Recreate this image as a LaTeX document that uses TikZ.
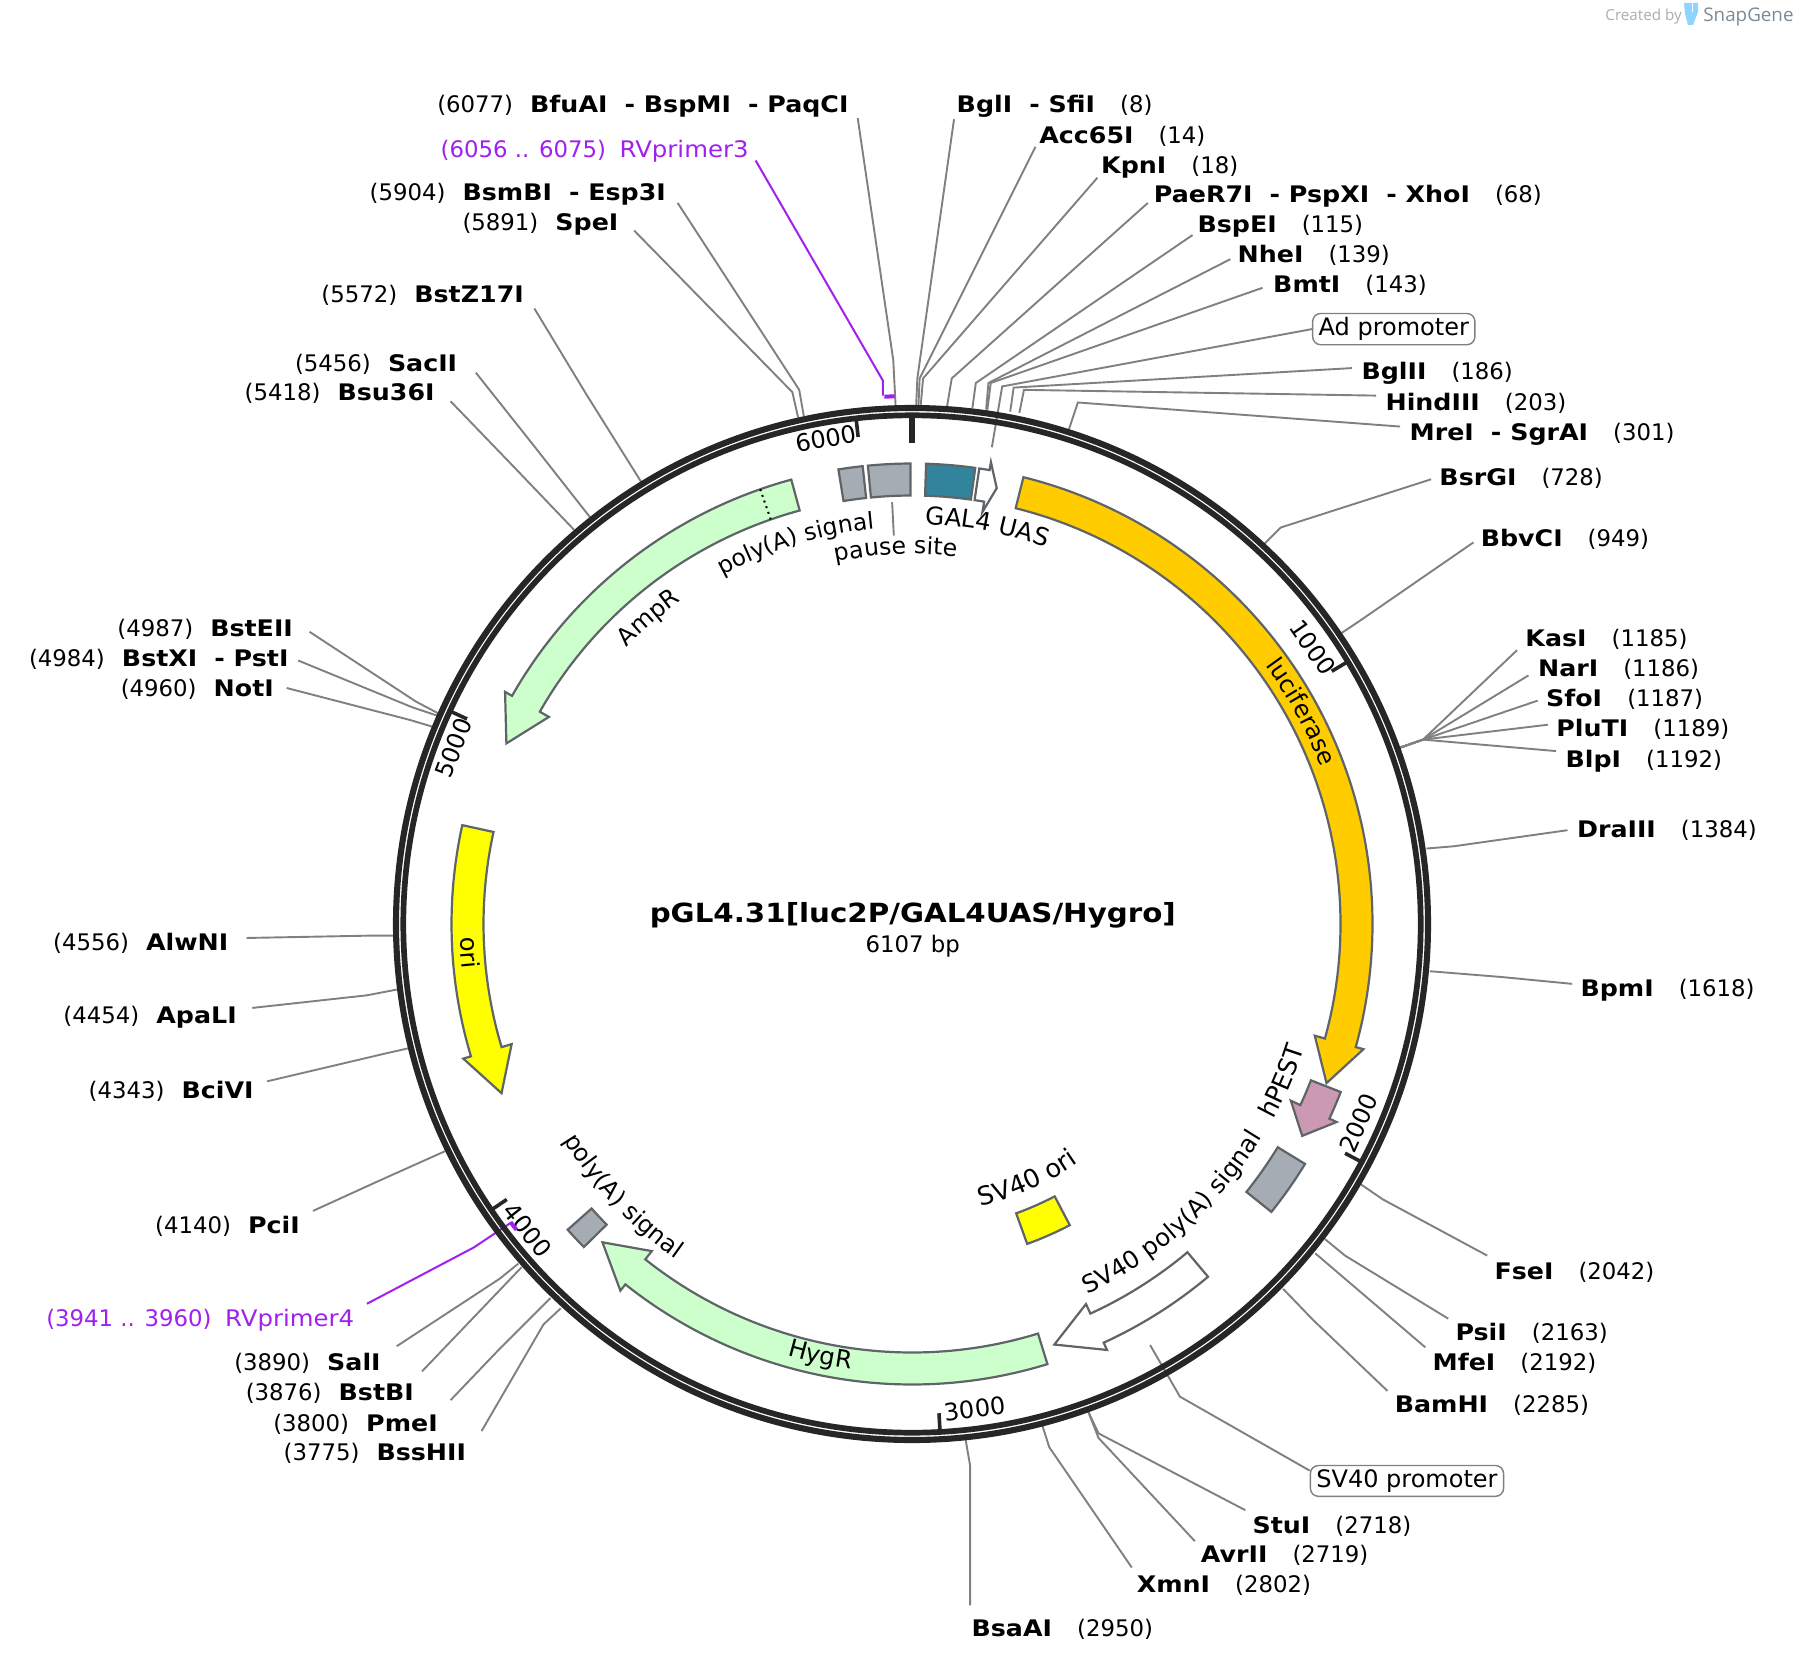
\documentclass[tikz,border=0pt]{standalone}
\usepackage{fontspec}
\setmainfont{DejaVu Sans}[BoldFeatures={FakeStretch=1.11}]
\newfontfamily\logofont{Open Sans}
\newfontfamily\widefont[FakeStretch=1.07]{DejaVu Sans}
\newfontfamily\curvefont[Kerning=Off]{DejaVu Sans}
\usetikzlibrary{decorations.text}
\definecolor{ringc}{HTML}{262626}
\definecolor{leadc}{HTML}{808080}
\definecolor{featc}{HTML}{5F6468}
\definecolor{purp}{HTML}{A020F0}
\definecolor{greyf}{HTML}{A6ACB3}
\definecolor{tealf}{HTML}{31849B}
\definecolor{mintf}{HTML}{CCFFCC}
\definecolor{yellf}{HTML}{FFFF00}
\definecolor{goldf}{HTML}{FFCC00}
\definecolor{pinkf}{HTML}{CC99B2}
\definecolor{logoblue}{HTML}{8FD3FF}
\definecolor{logogrey}{HTML}{7D8A94}
\newcommand\lfnt{\fontsize{12}{14}\selectfont}
\newcommand\sfnt{\fontsize{11.4}{14}\selectfont}
\newcommand\Lg{\hspace{0.75em}}
\newcommand\Rg{\hspace{1.1em}}
\newcommand\Bf[1]{\textbf{#1}}
\tikzset{
  feat/.style={draw=featc,line width=1.1pt,line join=miter},
  leader/.style={draw=leadc,line width=0.95pt},
  lbl/.style={anchor=base west,inner sep=0,font=\sfnt},
  ticktxt/.style={inner sep=0,font=\lfnt},
  boxlbl/.style={draw=leadc,rounded corners=4pt,line width=0.7pt,inner xsep=3pt,inner ysep=2pt,font=\lfnt},
}
% feature arrow: fill, theta0, theta base, theta tip
\newcommand\farrow[5][feat]{\draw[#1,fill=#2] ({90-(#3)}:460.5) arc[start angle={90-(#3)},end angle={90-(#4)},radius=460.5] -- ({90-(#4)}:468.5) -- ({90-(#5)}:444) -- ({90-(#4)}:418) -- ({90-(#4)}:428.5) arc[start angle={90-(#4)},end angle={90-(#3)},radius=428.5] -- cycle;}
% block: fill, th0, th1, ri, ro
\newcommand\fblock[5]{\draw[feat,fill=#1] ({90-(#2)}:#5) arc[start angle={90-(#2)},end angle={90-(#3)},radius=#5] -- ({90-(#3)}:#4) arc[start angle={90-(#3)},end angle={90-(#2)},radius=#4] -- cycle;}
% text on arc: [size], text, radius, centre theta, dir (1 clockwise, -1 counterclockwise)
\newcommand\arctext[5][12]{\path[decorate,decoration={text along path,text align=center,text={|\curvefont\fontsize{#1}{14}\selectfont|#2}}] ({90-(#4)+(#5)*40}:#3) arc[start angle={90-(#4)+(#5)*40},end angle={90-(#4)-(#5)*40},radius=#3];}
% label with leader: id, x, y, text, start, elbow, ring
\newcommand\lab[7]{\node[lbl] (#1) at (#2,#3+8) {#4};
  \coordinate (#1-s) at (#5); \coordinate (#1-e) at (#6); \coordinate (#1-r) at (#7);
  \draw[leader] (#1-s) -- (#1-e) -- (#1-r);}
\begin{document}
\begin{tikzpicture}[x=0.5pt,y=-0.5pt]
\fill[white] (0,0) rectangle (1798,1664);
\useasboundingbox (0,0) rectangle (1798,1664);
% logo
\node[anchor=base west,inner sep=0,text=black!32,font=\logofont\fontsize{7.6}{9}\selectfont] (created) at (1605,21) {Created by};
\fill[logoblue] (1684,3) -- (1698,3) -- (1698,12) -- (1693,25) -- (1688,25) -- (1685,14) -- cycle;
\draw[white,line width=0.5pt] (1692,3) -- (1692,12);
\node[anchor=base west,inner sep=0,text=logogrey,font=\logofont\fontsize{9.4}{12}\selectfont] (snap) at (1703,22) {SnapGene};
\begin{scope}[x=0.57334pt,y=-0.57334pt]
\lab{bfuai}{381}{90}{(6077)\Lg\Bf{BfuAI}\Lg\Bf{- BspMI}\Lg\Bf{- PaqCI}}{748,103}{779,314}{781,353}
\lab{bsmbi}{322}{167}{(5904)\Lg\Bf{BsmBI}\Lg\Bf{- Esp3I}}{591,177}{697,340}{701,363}
\lab{spei}{403}{193}{(5891)\Lg\Bf{SpeI}}{553,201}{691,342}{696,364}
\lab{bstz}{280}{256}{(5572)\Lg\Bf{BstZ17I}}{466,269}{512,345}{559,420}
\lab{sacii}{257}{316}{(5456)\Lg\Bf{SacII}}{415,325}{465,388}{514.5,451}
\lab{bsu}{213}{341}{(5418)\Lg\Bf{Bsu36I}}{393,350}{447,406}{500.6,462}
\lab{bgli}{834}{90}{\Bf{BglI}\Lg\Bf{- SfiI}\Rg(8)}{832,104}{800,330}{799,353}
\lab{acc}{906}{117}{\Bf{Acc65I}\Rg(14)}{903,128}{802,330}{801,353}
\lab{kpn}{960}{143}{\Bf{KpnI}\Rg(18)}{957,155}{805,330}{803,353}
\lab{paer}{1006}{169}{\Bf{PaeR7I}\Lg\Bf{- PspXI}\Lg\Bf{- XhoI}\Rg(68)}{1001,177}{830,330}{826,354}
\lab{bspe}{1044}{195}{\Bf{BspEI}\Rg(115)}{1040,205}{851,334}{848,356}
\lab{nhe}{1079}{221}{\Bf{NheI}\Rg(139)}{1073,226}{862,334}{860,357}
\lab{bmt}{1110}{247}{\Bf{BmtI}\Rg(143)}{1101,251}{864,334}{861,358}
\lab{bglii}{1187}{323}{\Bf{BglII}\Rg(186)}{1179,321}{884,338}{881,359}
\lab{hind}{1208}{350}{\Bf{HindIII}\Rg(203)}{1200,345}{893,340}{889,360}
\lab{mrei}{1229}{376}{\Bf{MreI}\Lg\Bf{- SgrAI}\Rg(301)}{1221,372}{940,351}{932,375}
\lab{bsrg}{1255}{415}{\Bf{BsrGI}\Rg(728)}{1248,418}{1117,460}{1103,474}
\lab{bbvc}{1291}{469}{\Bf{BbvCI}\Rg(949)}{1285,473}{1185,542}{1170,552}
\lab{kasi}{1330}{556}{\Bf{KasI}\Rg(1185)}{1323,567}{1241,645}{1221,652}
\lab{nari}{1341}{582}{\Bf{NarI}\Rg(1186)}{1333,589}{1241,645}{1221,652}
\lab{sfoi}{1348}{608}{\Bf{SfoI}\Rg(1187)}{1341,611}{1241,645}{1221,652}
\lab{plut}{1357}{634}{\Bf{PluTI}\Rg(1189)}{1350,632}{1241,645}{1221,652}
\lab{blpi}{1365}{661}{\Bf{BlpI}\Rg(1192)}{1357,655}{1241,645}{1221,652}
\lab{dra}{1375}{722}{\Bf{DraIII}\Rg(1384)}{1367,724}{1268,738}{1244,740}
\lab{bpmi}{1378}{861}{\Bf{BpmI}\Rg(1618)}{1371,858}{1309,852}{1247,847}
\lab{fsei}{1303}{1108}{\Bf{FseI}\Rg(2042)}{1297,1095}{1206,1046}{1187,1033}
\lab{psii}{1269}{1161}{\Bf{PsiI}\Rg(2163)}{1263,1150}{1173,1095}{1155.5,1080.6}
\lab{mfei}{1249}{1187}{\Bf{MfeI}\Rg(2192)}{1243,1175}{1195,1134}{1147,1093}
\lab{bamh}{1216}{1224}{\Bf{BamHI}\Rg(2285)}{1210,1213}{1145,1151}{1119,1124}
\lab{stui}{1092}{1329}{\Bf{StuI}\Rg(2718)}{1086,1317}{958,1250}{949,1231}
\lab{avr}{1047}{1355}{\Bf{AvrII}\Rg(2719)}{1042,1344}{958,1254}{949,1231}
\lab{xmn}{991}{1381}{\Bf{XmnI}\Rg(2802)}{987,1367}{915,1262}{909,1243}
\lab{bsaa}{847}{1419}{\Bf{BsaAI}\Rg(2950)}{846,1400}{846,1278}{842,1255}
\lab{bste}{102}{547}{(4987)\Lg\Bf{BstEII}}{270,551}{363,612}{382,622}
\lab{bstx}{25}{573}{(4984)\Lg\Bf{BstXI}\Lg\Bf{- PstI}}{260,576}{360,617}{381,624}
\lab{noti}{105}{599}{(4960)\Lg\Bf{NotI}}{250,600}{358,628}{378,634}
\lab{alwn}{46}{821}{(4556)\Lg\Bf{AlwNI}}{215,818}{320,816}{345,816}
\lab{apal}{55}{885}{(4454)\Lg\Bf{ApaLI}}{220,879}{320,868}{346,863}
\lab{bciv}{77}{950}{(4343)\Lg\Bf{BciVI}}{233,943}{335,919}{357,914}
\lab{pcii}{135}{1068}{(4140)\Lg\Bf{PciI}}{273,1056}{330,1030}{388,1004}
\lab{sali}{204}{1187}{(3890)\Lg\Bf{SalI}}{346,1174}{436,1115}{452,1102}
\lab{bstb}{214}{1213}{(3876)\Lg\Bf{BstBI}}{368,1196}{412,1150}{455,1105}
\lab{pmei}{238}{1240}{(3800)\Lg\Bf{PmeI}}{393,1221}{436,1176}{480,1132}
\lab{bssh}{247}{1266}{(3775)\Lg\Bf{BssHII}}{420,1248}{474,1155}{489,1141}
% boxed labels
\node[boxlbl] (ad) at (1215.5,287) {Ad promoter};
\coordinate (ad-e) at (874,337); \coordinate (ad-r) at (865,390);
\draw[leader] (ad.west) -- (ad-e) -- (ad-r);
\node[boxlbl] (sv) at (1227,1291.5) {SV40 promoter};
\coordinate (sv-e) at (1029,1218); \coordinate (sv-r) at (1003,1173);
\draw[leader] (sv.west) ++(0,-9) -- (sv-e) -- (sv-r);
% pause site leader
\coordinate (ps-a) at (778,438); \coordinate (ps-b) at (779.5,467);
\draw[leader] (ps-a) -- (ps-b);
% purple labels
\node[lbl,text=purp] (rv3) at (384,137) {(6056 .. 6075)\hspace{0.6em}{\widefont RVprimer3}};
\node[lbl,text=purp] (rv4) at (40,1157) {(3941 .. 3960)\hspace{0.6em}{\widefont RVprimer4}};
\coordinate (rv3-s) at (659,140); \coordinate (rv3-e) at (770,332); \coordinate (rv3-r) at (770,345);
\draw[purp,line width=1pt] (rv3-s) -- (rv3-e) -- (rv3-r);
\coordinate (rv4-s) at (320,1137); \coordinate (rv4-e) at (413,1088); \coordinate (rv4-r) at (446,1066);
\draw[purp,line width=1pt] (rv4-s) -- (rv4-e) -- (rv4-r);
% centre text
\node[inner sep=0,font=\fontsize{13.2}{16}\selectfont\bfseries] (title) at (796,798.5) {pGL4.31[luc2P/GAL4UAS/Hygro]};
\node[inner sep=0,font=\sfnt] (bp) at (796,825) {6107 bp};
\end{scope}
\begin{scope}[shift={(912,924)},y=0.5pt]
% ring
\draw[ringc,line width=3.05pt] (0,0) circle[radius=516];
\draw[ringc,line width=2.85pt] (0,0) circle[radius=508.7];
% ticks
\draw[ringc,line width=3.1pt] (90:507) -- (90:481);
\foreach \b in {1000,2000,3000,4000,5000,6000}{
  \draw[ringc,line width=1.8pt] ({90-\b/6107*360}:507) -- ({90-\b/6107*360}:490);
}
\node[ticktxt,rotate=10] (t6) at ({90+10}:493) {6000};
\node[ticktxt,rotate=-55.4] (t1) at ({90-55.4}:487) {1000};
\node[ticktxt,rotate=66] (t2) at ({90-114}:489) {2000};
\node[ticktxt,rotate=7.4] (t3) at ({90-172.6}:489) {3000};
\node[ticktxt,rotate=-51.5] (t4) at ({90+128.5}:491) {4000};
\node[ticktxt,rotate=69] (t5) at ({90+69}:491) {5000};
% primer arcs
\draw[purp,line width=2pt] ({90+3}:528) arc[start angle={90+3},end angle={90+1.9},radius=528];
\draw[purp,line width=2pt] ({90-232.3}:500) arc[start angle={90-232.3},end angle={90-233.4},radius=500];
% features
\farrow{goldf}{14}{105.5}{111}
\farrow{pinkf}{111.4}{115}{118.5}
\farrow{white}{8.4}{9.7}{11}
\farrow{white}{140}{155.4}{161.3}
\farrow{mintf}{162.9}{218.5}{224.2}
\farrow{yellf}{-77.6}{-106.7}{-112.4}
\farrow{mintf}{-15.2}{-60.3}{-66}
\fblock{greyf}{-9.2}{-6.15}{428.5}{460.5}
\fblock{greyf}{-5.5}{-0.2}{428.5}{460.5}
\fblock{tealf}{1.75}{7.9}{428.5}{460.5}
\fblock{greyf}{121.4}{128.7}{428.5}{460.5}
\fblock{greyf}{-134.55}{-131.6}{428.5}{460.5}
\fblock{yellf}{152.35}{160.2}{307.5}{340}
\draw[black,line width=1pt,dotted] ({90+19.25}:428.5) -- ({90+19.25}:460.5);
% curved labels
\arctext[12.3]{GAL4 UAS}{400}{10.7}{1}
\arctext[11.8]{pause site}{370}{-2.5}{1}
\arctext[11.7]{poly(A) signal}{397}{-17}{1}
\arctext[12]{AmpR}{397}{-40.7}{1}
\arctext[12]{luciferase}{438}{61.4}{1}
\arctext[12.6]{hPEST}{411}{113}{-1}
\arctext[12.2]{SV40 poly(A) signal}{410}{138}{-1}
\arctext[12.8]{SV40 ori}{291}{155.7}{-1}
\arctext[12.2]{HygR}{449}{192}{-1}
\arctext[12.2]{ori}{452}{-93.7}{-1}
\arctext[12]{poly(A) signal}{410}{-133.3}{-1}
\end{scope}
\end{tikzpicture}
\end{document}
